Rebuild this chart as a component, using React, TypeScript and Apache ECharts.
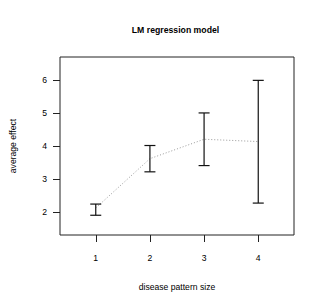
import React, { useEffect, useRef } from "react";
import * as echarts from "echarts";

const sizes = [1, 2, 3, 4];
const means = [2.12, 3.62, 4.21, 4.14];
const lower = [1.9, 3.22, 3.41, 2.27];
const upper = [2.24, 4.02, 5.01, 6.0];
const yTicks = [2, 3, 4, 5, 6];

export default function App() {
  const ref = useRef<HTMLDivElement>(null);
  useEffect(() => {
    const chart = echarts.init(ref.current!, null, { renderer: "svg" });
    const font = "Liberation Sans, Arial, Helvetica, sans-serif";
    chart.setOption({
      animation: false,
      graphic: [
        {
          type: "text",
          x: 175.5,
          y: 30,
          style: {
            text: "LM regression model",
            textAlign: "center",
            textVerticalAlign: "middle",
            fontFamily: font,
            fontSize: 8.7,
            fontWeight: "bold",
            fill: "#000",
          },
        },
      ],
      grid: {
        left: 57,
        top: 57,
        width: 237,
        height: 178,
        show: true,
        borderColor: "#222",
        borderWidth: 1,
        backgroundColor: "transparent",
      },
      xAxis: {
        type: "value",
        min: 0.34,
        max: 4.66,
        name: "disease pattern size",
        nameLocation: "middle",
        nameGap: 47,
        nameTextStyle: { fontFamily: font, fontSize: 8.6, color: "#000" },
        axisLine: { show: false },
        splitLine: { show: false },
        axisTick: { show: true, length: 7, customValues: sizes, lineStyle: { color: "#222" } },
        axisLabel: {
          customValues: sizes,
          margin: 18,
          fontFamily: font,
          fontSize: 8.6,
          color: "#000",
          formatter: (v: number) => String(Math.round(v)),
        },
      },
      yAxis: {
        type: "value",
        min: 1.3,
        max: 6.71,
        name: "average effect",
        nameLocation: "middle",
        nameGap: 43,
        nameRotate: 90,
        nameTextStyle: { fontFamily: font, fontSize: 8.6, color: "#000" },
        axisLine: { show: false },
        splitLine: { show: false },
        axisTick: { show: true, length: 7, customValues: yTicks, lineStyle: { color: "#222" } },
        axisLabel: {
          customValues: yTicks,
          margin: 13,
          fontFamily: font,
          fontSize: 8.6,
          color: "#000",
          formatter: (v: number) => String(Math.round(v)),
        },
      },
      series: [
        {
          type: "line",
          data: sizes.map((s, i) => [s, means[i]]),
          symbol: "none",
          lineStyle: { color: "#9a9a9a", width: 1, type: [1, 2] },
          z: 1,
        },
        {
          type: "custom",
          data: sizes.map((s, i) => [s, lower[i], upper[i]]),
          renderItem: (params: any, api: any) => {
            const x = api.value(0);
            const lo = api.coord([x, api.value(1)]);
            const hi = api.coord([x, api.value(2)]);
            const hw = 5.5;
            const style = { stroke: "#111", lineWidth: 1.2 };
            return {
              type: "group",
              children: [
                { type: "line", shape: { x1: lo[0], y1: lo[1], x2: hi[0], y2: hi[1] }, style },
                { type: "line", shape: { x1: lo[0] - hw, y1: lo[1], x2: lo[0] + hw, y2: lo[1] }, style },
                { type: "line", shape: { x1: hi[0] - hw, y1: hi[1], x2: hi[0] + hw, y2: hi[1] }, style },
              ],
            };
          },
          z: 2,
        },
      ],
    });
    return () => chart.dispose();
  }, []);
  return <div ref={ref} style={{ width: 324, height: 307, position: "absolute", left: 0, top: 0 }} />;
}
